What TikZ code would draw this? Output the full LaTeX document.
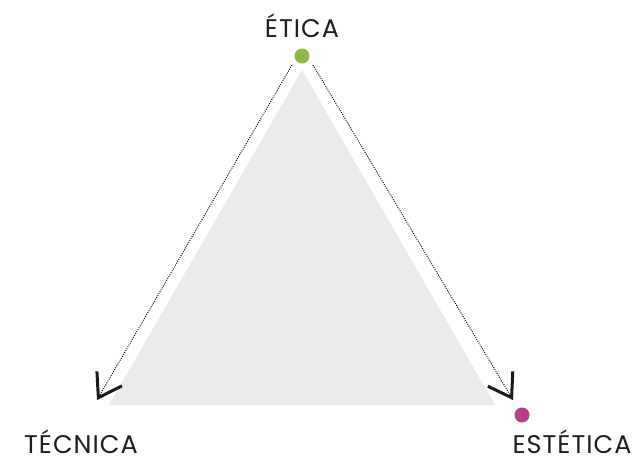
\documentclass[tikz,border=0pt]{standalone}
\usepackage{fontspec}
\setmainfont[LetterSpace=4]{Poppins}
\usetikzlibrary{arrows.meta}
\definecolor{verde}{HTML}{8DB84A}
\definecolor{magenta}{HTML}{B83C88}
\definecolor{gris}{HTML}{EBEBEB}
\begin{document}
\begin{tikzpicture}[x=1pt,y=-1pt]
        		\tikzstyle{dot}=[circle,inner sep=0pt,minimum size=15pt]
        		\tikzstyle{word}=[anchor=base,inner sep=0pt,text=black!88,font=\fontsize{25.5}{26}\selectfont]
        		\tikzstyle{edge}=[draw=black!90,line width=1pt,dash pattern=on 1pt off 1.2pt,
        		  -{Straight Barb[length=22pt,width=29pt,line width=3pt]}]

        		\useasboundingbox (0,0) rectangle (642,461);

       			\begin{scope}

			         % triangle
			         \fill[gris] (302,70) -- (109,405) -- (495,405) -- cycle;

			         \node [dot,fill=verde] (etica) at (302,56) {};
			         \node [dot,fill=magenta] (estetica) at (522,415) {};

			         \node [word] (lbl-etica) at (302,37) {ÉTICA};
			         \node [word] (lbl-tecnica) at (81,453) {TÉCNICA};
			         \node [word] (lbl-estetica) at (572,453) {ESTÉTICA};

			         \coordinate (l0) at (292,65);
			         \coordinate (l1) at (97,400);
			         \coordinate (r0) at (313,65);
			         \coordinate (r1) at (513,400);

			 		\draw[edge] (l0) -- (l1);
			 		\draw[edge] (r0) -- (r1);

		        \end{scope}
     		 \end{tikzpicture}
\end{document}
